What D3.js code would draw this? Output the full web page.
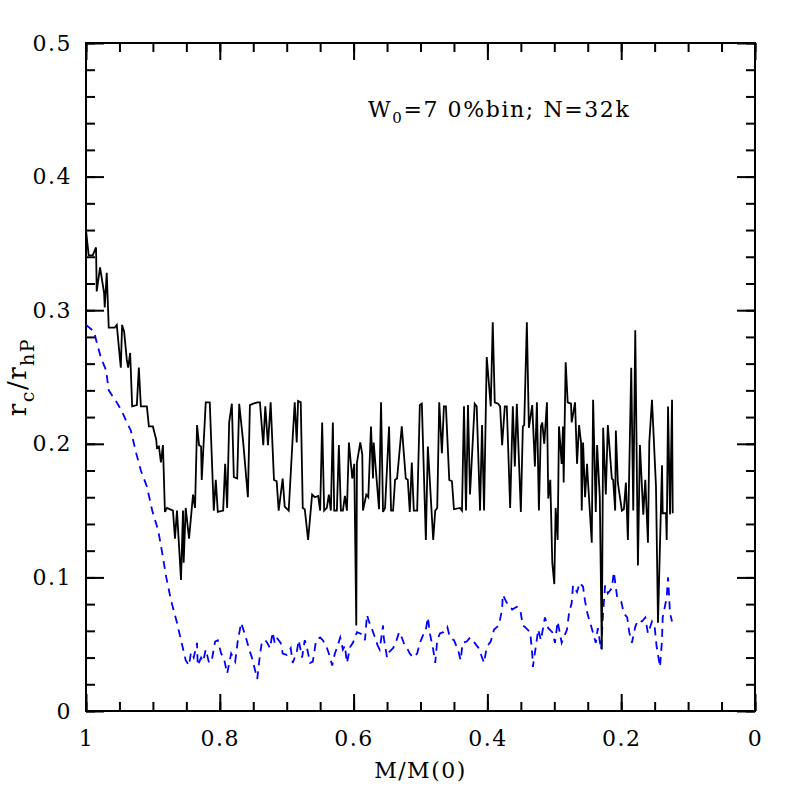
<!DOCTYPE html>
<html>
<head>
<meta charset="utf-8">
<script src="https://cdn.jsdelivr.net/npm/d3@7"></script>
<style>
  body { margin: 0; background: #fff; }
  text { font-family: "DejaVu Serif", "Liberation Serif", serif; }
</style>
</head>
<body>
<div id="chart"></div>
<script>
var w = 797;
var h = 797;
var padL = 86, padR = 755, padT = 43, padB = 711;

// black solid line: r_c / r_hP
var massBlack = [1.000,0.996,0.990,0.985,0.984,0.979,0.973,0.972,0.969,0.966,0.957,0.954,0.948,0.946,0.943,0.939,0.937,0.934,0.931,0.924,
  0.921,0.918,0.909,0.906,0.900,0.895,0.894,0.891,0.888,0.885,0.882,0.879,0.870,0.867,0.864,0.858,0.855,0.854,0.851,0.846,
  0.840,0.837,0.834,0.831,0.828,0.827,0.821,0.815,0.809,0.806,0.803,0.795,0.792,0.789,0.786,0.782,0.779,0.774,0.771,0.765,
  0.758,0.755,0.750,0.744,0.740,0.735,0.732,0.728,0.724,0.719,0.715,0.712,0.706,0.703,0.697,0.691,0.688,0.685,0.683,0.679,
  0.676,0.673,0.668,0.662,0.658,0.653,0.650,0.647,0.644,0.640,0.637,0.634,0.631,0.629,0.625,0.622,0.619,0.616,0.613,0.610,
  0.607,0.602,0.599,0.596,0.595,0.590,0.587,0.586,0.581,0.578,0.574,0.571,0.570,0.562,0.559,0.556,0.553,0.547,0.544,0.541,
  0.538,0.535,0.528,0.522,0.519,0.516,0.513,0.510,0.505,0.501,0.498,0.492,0.489,0.481,0.478,0.475,0.472,0.468,0.465,0.462,
  0.457,0.453,0.450,0.441,0.438,0.435,0.432,0.429,0.426,0.419,0.416,0.411,0.408,0.405,0.401,0.395,0.392,0.389,0.384,0.381,
  0.378,0.374,0.371,0.366,0.362,0.359,0.356,0.350,0.347,0.345,0.341,0.338,0.333,0.329,0.326,0.323,0.320,0.318,0.315,0.311,
  0.309,0.306,0.303,0.300,0.298,0.295,0.293,0.289,0.287,0.286,0.283,0.280,0.275,0.274,0.269,0.266,0.263,0.260,0.259,0.257,
  0.254,0.251,0.250,0.244,0.242,0.238,0.236,0.232,0.229,0.227,0.223,0.220,0.214,0.212,0.209,0.208,0.205,0.199,0.196,0.193,
  0.190,0.185,0.182,0.179,0.175,0.172,0.167,0.164,0.160,0.158,0.154,0.148,0.145,0.139,0.138,0.133,0.132,0.130,0.127,0.124,0.123];
var rcBlack = [0.360,0.341,0.341,0.347,0.314,0.332,0.313,0.302,0.328,0.287,0.287,0.289,0.257,0.289,0.284,0.263,0.257,0.268,0.228,0.229,
  0.257,0.228,0.228,0.213,0.213,0.203,0.197,0.198,0.186,0.199,0.149,0.152,0.150,0.129,0.150,0.098,0.150,0.111,0.152,0.129,
  0.162,0.152,0.214,0.199,0.198,0.173,0.231,0.231,0.150,0.173,0.149,0.150,0.185,0.152,0.216,0.230,0.175,0.174,0.230,0.201,
  0.160,0.229,0.230,0.231,0.231,0.199,0.228,0.199,0.231,0.173,0.172,0.150,0.174,0.153,0.150,0.205,0.231,0.201,0.232,0.231,
  0.152,0.151,0.128,0.162,0.160,0.161,0.150,0.216,0.150,0.152,0.162,0.150,0.216,0.150,0.150,0.199,0.150,0.150,0.161,0.150,
  0.201,0.174,0.185,0.064,0.186,0.201,0.192,0.150,0.162,0.160,0.213,0.174,0.201,0.151,0.231,0.149,0.152,0.213,0.150,0.150,
  0.173,0.174,0.213,0.174,0.173,0.149,0.186,0.150,0.150,0.229,0.230,0.128,0.198,0.128,0.150,0.152,0.231,0.193,0.228,0.228,
  0.173,0.172,0.151,0.152,0.150,0.228,0.150,0.229,0.162,0.230,0.228,0.150,0.214,0.150,0.265,0.228,0.291,0.231,0.230,0.228,
  0.199,0.228,0.228,0.152,0.228,0.183,0.230,0.149,0.213,0.214,0.291,0.212,0.229,0.183,0.231,0.150,0.213,0.216,0.200,0.231,
  0.159,0.173,0.111,0.095,0.152,0.128,0.213,0.185,0.213,0.171,0.261,0.231,0.230,0.216,0.231,0.185,0.214,0.201,0.150,0.201,
  0.160,0.185,0.175,0.126,0.233,0.149,0.199,0.160,0.046,0.212,0.162,0.214,0.174,0.173,0.150,0.210,0.171,0.150,0.151,0.171,
  0.128,0.257,0.150,0.285,0.109,0.199,0.147,0.173,0.126,0.201,0.233,0.168,0.066,0.184,0.148,0.148,0.128,0.228,0.147,0.233,0.148];

// blue dashed line
var massBlue = [1.000,0.988,0.984,0.978,0.970,0.966,0.954,0.946,0.939,0.933,0.925,0.918,0.909,0.901,0.892,0.886,0.880,0.873,0.864,0.857,
  0.851,0.846,0.843,0.839,0.834,0.833,0.828,0.825,0.821,0.816,0.812,0.807,0.803,0.798,0.794,0.789,0.783,0.777,0.773,0.768,
  0.761,0.756,0.752,0.744,0.740,0.737,0.732,0.729,0.725,0.721,0.718,0.715,0.709,0.706,0.700,0.694,0.691,0.685,0.682,0.677,
  0.673,0.670,0.665,0.661,0.656,0.650,0.646,0.641,0.637,0.632,0.628,0.625,0.620,0.616,0.613,0.610,0.605,0.601,0.595,0.590,
  0.586,0.583,0.580,0.577,0.573,0.568,0.564,0.561,0.556,0.555,0.550,0.547,0.541,0.537,0.532,0.528,0.525,0.520,0.516,0.511,
  0.505,0.501,0.496,0.492,0.489,0.486,0.481,0.478,0.475,0.471,0.466,0.460,0.456,0.450,0.444,0.440,0.437,0.431,0.426,0.419,
  0.413,0.405,0.401,0.395,0.390,0.383,0.378,0.377,0.371,0.363,0.356,0.351,0.347,0.344,0.336,0.333,0.332,0.324,0.320,0.314,
  0.309,0.303,0.299,0.295,0.289,0.281,0.278,0.274,0.272,0.266,0.262,0.257,0.254,0.250,0.244,0.238,0.235,0.230,0.227,0.224,
  0.220,0.214,0.211,0.206,0.200,0.196,0.191,0.188,0.184,0.179,0.175,0.169,0.164,0.160,0.154,0.150,0.147,0.142,0.139,0.138,
  0.132,0.130,0.127,0.124];
var rcBlue = [0.289,0.284,0.276,0.265,0.255,0.240,0.231,0.224,0.216,0.210,0.193,0.180,0.168,0.150,0.135,0.118,0.100,0.083,0.066,0.051,
  0.038,0.034,0.044,0.040,0.051,0.034,0.040,0.037,0.046,0.036,0.038,0.052,0.053,0.043,0.040,0.028,0.043,0.037,0.053,0.066,
  0.055,0.046,0.040,0.024,0.042,0.052,0.053,0.051,0.047,0.059,0.051,0.055,0.051,0.043,0.042,0.047,0.036,0.044,0.053,0.040,
  0.053,0.048,0.036,0.037,0.053,0.055,0.053,0.049,0.043,0.034,0.043,0.047,0.055,0.046,0.049,0.036,0.048,0.051,0.059,0.058,
  0.057,0.053,0.072,0.067,0.062,0.055,0.049,0.046,0.064,0.055,0.040,0.044,0.047,0.051,0.059,0.055,0.051,0.047,0.043,0.040,
  0.043,0.051,0.057,0.061,0.070,0.058,0.046,0.036,0.053,0.058,0.059,0.063,0.055,0.053,0.046,0.038,0.051,0.052,0.055,0.051,
  0.047,0.036,0.048,0.052,0.061,0.064,0.076,0.087,0.081,0.076,0.078,0.076,0.064,0.063,0.059,0.043,0.033,0.061,0.053,0.070,
  0.062,0.059,0.051,0.067,0.051,0.061,0.073,0.081,0.094,0.089,0.096,0.093,0.082,0.072,0.062,0.051,0.062,0.046,0.074,0.094,
  0.088,0.092,0.104,0.085,0.082,0.073,0.070,0.059,0.051,0.063,0.068,0.067,0.070,0.058,0.067,0.063,0.048,0.033,0.053,0.070,
  0.085,0.100,0.073,0.067];

var xTicks = [1, 0.8, 0.6, 0.4, 0.2, 0];
var xTickLabels = ["1", "0.8", "0.6", "0.4", "0.2", "0"];
var yTicks = [0, 0.1, 0.2, 0.3, 0.4, 0.5];
var yTickLabels = ["0", "0.1", "0.2", "0.3", "0.4", "0.5"];

var xScale = d3.scaleLinear().domain([1, 0]).range([padL, padR]);
var yScale = d3.scaleLinear().domain([0, 0.5]).range([padB, padT]);

var svg = d3.select("#chart")
            .append("svg")
            .attr("width", w)
            .attr("height", h)
            .style("display", "block");

var xMinor = d3.range(0, 1.0001, 0.05);
var yMinor = d3.range(0, 0.5001, 0.02);

function styleAxis(g) {
  g.select(".domain").remove();
  g.selectAll("line").attr("stroke", "#000").attr("stroke-width", 2);
  g.selectAll("text").attr("font-size", 22).attr("fill", "#000")
    .attr("letter-spacing", 1.5)
    .style("font-family", '"DejaVu Serif", serif');
}

// bottom
svg.append("g").attr("transform", "translate(0," + padB + ")")
  .call(d3.axisBottom(xScale).tickValues(xMinor).tickSize(-9).tickFormat(""))
  .call(styleAxis);
svg.append("g").attr("transform", "translate(0," + padB + ")")
  .call(d3.axisBottom(xScale).tickValues(xTicks).tickSize(-17).tickPadding(19)
    .tickFormat(function(d, i) { return xTickLabels[i]; }))
  .call(styleAxis);
// top
svg.append("g").attr("transform", "translate(0," + padT + ")")
  .call(d3.axisTop(xScale).tickValues(xMinor).tickSize(-9).tickFormat(""))
  .call(styleAxis);
svg.append("g").attr("transform", "translate(0," + padT + ")")
  .call(d3.axisTop(xScale).tickValues(xTicks).tickSize(-17).tickFormat(""))
  .call(styleAxis);
// left
svg.append("g").attr("transform", "translate(" + padL + ",0)")
  .call(d3.axisLeft(yScale).tickValues(yMinor).tickSize(-9).tickFormat(""))
  .call(styleAxis);
svg.append("g").attr("transform", "translate(" + padL + ",0)")
  .call(d3.axisLeft(yScale).tickValues(yTicks).tickSize(-18).tickPadding(14)
    .tickFormat(function(d, i) { return yTickLabels[i]; }))
  .call(styleAxis);
// right
svg.append("g").attr("transform", "translate(" + padR + ",0)")
  .call(d3.axisRight(yScale).tickValues(yMinor).tickSize(-9).tickFormat(""))
  .call(styleAxis);
svg.append("g").attr("transform", "translate(" + padR + ",0)")
  .call(d3.axisRight(yScale).tickValues(yTicks).tickSize(-18).tickFormat(""))
  .call(styleAxis);

// frame
svg.append("rect")
  .attr("x", padL).attr("y", padT)
  .attr("width", padR - padL).attr("height", padB - padT)
  .attr("fill", "none").attr("stroke", "#000").attr("stroke-width", 2);

var line = d3.line()
  .x(function(d) { return xScale(d[0]); })
  .y(function(d) { return yScale(d[1]); });

svg.append("path")
  .datum(d3.zip(massBlue, rcBlue))
  .attr("d", line)
  .attr("fill", "none")
  .attr("stroke", "#0000ff")
  .attr("stroke-width", 1.8)
  .attr("stroke-dasharray", "8,6");

svg.append("path")
  .datum(d3.zip(massBlack, rcBlack))
  .attr("d", line)
  .attr("fill", "none")
  .attr("stroke", "#000")
  .attr("stroke-width", 1.8);

// x title
svg.append("text")
  .attr("x", (padL + padR) / 2)
  .attr("y", 778)
  .attr("text-anchor", "middle")
  .attr("font-size", 22)
  .attr("letter-spacing", 1.5)
  .text("M/M(0)");

// y title
var yt = svg.append("text")
  .attr("transform", "translate(26,377) rotate(-90)")
  .attr("text-anchor", "middle")
  .attr("font-size", 26)
  .attr("letter-spacing", 1.5);
yt.append("tspan").text("r");
yt.append("tspan").attr("font-size", 19).attr("dy", 8).text("c");
yt.append("tspan").attr("dy", -8).text("/r");
yt.append("tspan").attr("font-size", 19).attr("dy", 8).text("hP");

// annotation
var ann = svg.append("text")
  .attr("x", 368)
  .attr("y", 117)
  .attr("font-size", 22)
  .attr("letter-spacing", 1.6);
ann.append("tspan").text("W");
ann.append("tspan").attr("font-size", 15).attr("dy", 6).text("0");
ann.append("tspan").attr("dy", -6).text("=7 0%bin; N=32k");
</script>
</body>
</html>
